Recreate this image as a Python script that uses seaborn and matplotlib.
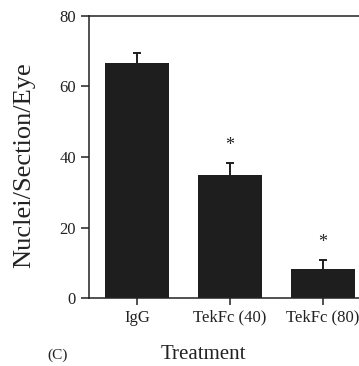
import matplotlib
matplotlib.use("Agg")
import matplotlib.pyplot as plt
import seaborn as sns
import pandas as pd
import numpy as np

# values
treatments = ["IgG", "TekFc (40)", "TekFc (80)"]
nuclei = [66.7, 34.9, 8.1]
sem = [2.9, 3.5, 2.7]
significant = [False, True, True]
yticks = [0, 20, 40, 60, 80]

df = pd.DataFrame({"Treatment": treatments, "Nuclei": nuclei, "SEM": sem})

sns.set_style("ticks")
plt.rcParams["font.family"] = ["Liberation Serif", "DejaVu Serif"]
ink = "#222222"
bar_col = "#1e1e1e"

fig = plt.figure(figsize=(3.59, 3.66), dpi=100)
ax = fig.add_axes([89 / 359, 68 / 366, 270 / 359, 282 / 366])

sns.barplot(data=df, x="Treatment", y="Nuclei", color=bar_col,
            width=0.69, errorbar=None, saturation=1, linewidth=0, ax=ax)

# upper error bars only (lower half hides behind the bars)
x = np.arange(len(treatments))
ax.errorbar(x, df["Nuclei"], yerr=df["SEM"], fmt="none", ecolor=bar_col,
            elinewidth=1.4, capsize=2.7, capthick=1.4, zorder=0.5)

for i, (v, e, s) in enumerate(zip(nuclei, sem, significant)):
    if s:
        ax.text(i, v + e + 5, "*", ha="center", va="center", fontsize=13, color=ink)

ax.set_xlim(-0.516, 2.387)
ax.set_ylim(0, 80)
ax.set_yticks(yticks)

for side in ["left", "bottom", "top"]:
    ax.spines[side].set_linewidth(1.1)
    ax.spines[side].set_color(ink)
ax.spines["right"].set_visible(False)

ax.tick_params(axis="both", labelsize=12, colors=ink, width=1.1)
ax.tick_params(axis="y", length=6)
ax.tick_params(axis="x", length=5)

ax.set_ylabel("Nuclei/Section/Eye", fontsize=19, color=ink, va="center")
ax.set_xlabel("Treatment", fontsize=15, color=ink, va="center")
ax.yaxis.set_label_coords(-0.24, 0.47)
ax.xaxis.set_label_coords(0.422, -0.202)

fig.text(57.5 / 359, 1 - 355 / 366, "(C)", ha="center", va="center",
         fontsize=11, color=ink)

fig.savefig("out.png", dpi=100)
